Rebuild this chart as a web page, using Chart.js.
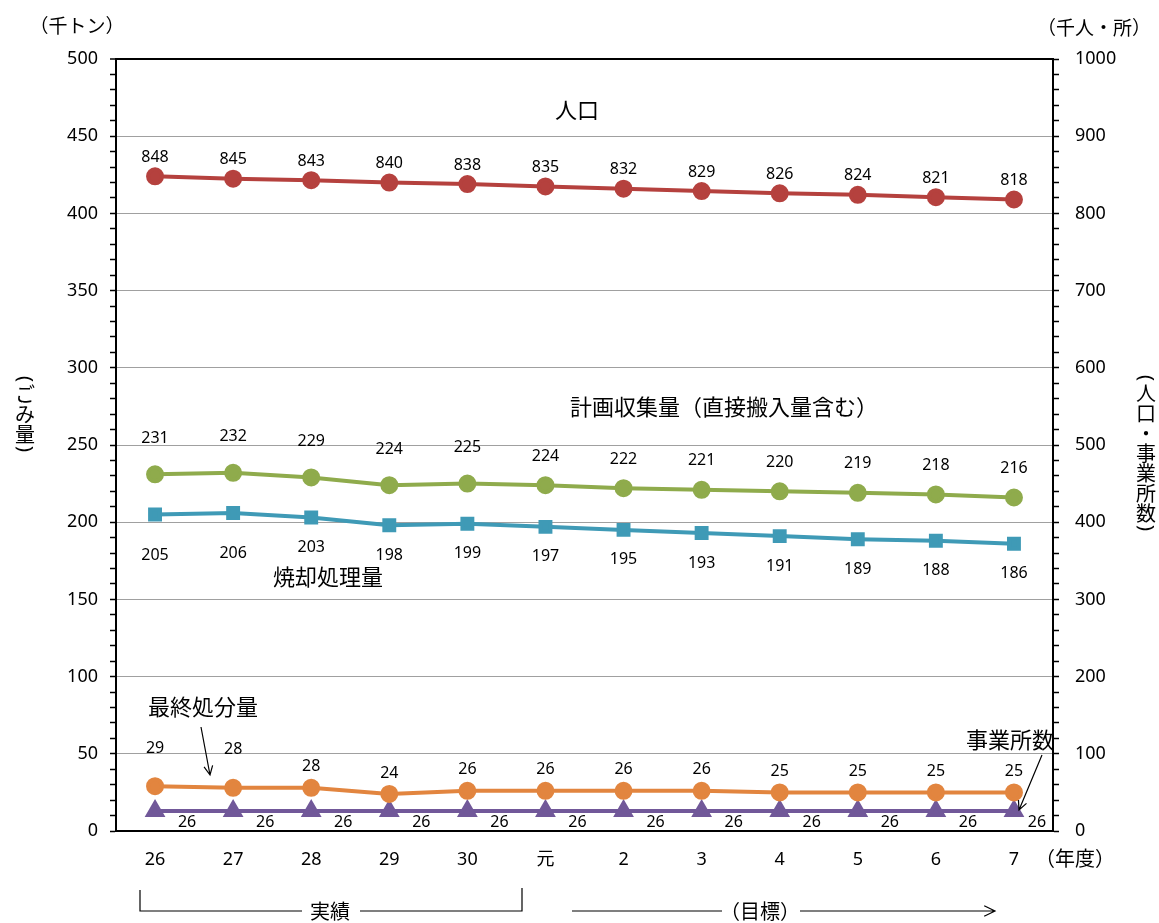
<!DOCTYPE html>
<html>
<head>
<meta charset="utf-8">
<script src="https://cdn.jsdelivr.net/npm/chart.js@4.4.0/dist/chart.umd.min.js"></script>
<style>
  html, body { margin: 0; padding: 0; background: #fff; }
  canvas { display: block; }
</style>
</head>
<body>
<canvas id="wasteChart" width="1159" height="923"></canvas>
<script>
const years = ['26', '27', '28', '29', '30', '元', '2', '3', '4', '5', '6', '7'];
const population = [848, 845, 843, 840, 838, 835, 832, 829, 826, 824, 821, 818];
const collected = [231, 232, 229, 224, 225, 224, 222, 221, 220, 219, 218, 216];
const incinerated = [205, 206, 203, 198, 199, 197, 195, 193, 191, 189, 188, 186];
const landfill = [29, 28, 28, 24, 26, 26, 26, 26, 25, 25, 25, 25];
const offices = [26, 26, 26, 26, 26, 26, 26, 26, 26, 26, 26, 26];

const NUM_FONT = '"Noto Sans", "Noto Sans CJK JP", sans-serif';
const JP_FONT = '"Noto Sans CJK JP", "Noto Sans", sans-serif';

// label offsets per series (dx, dy from the point)
const labelPos = [
  i => [0, -19],                       // 人口
  i => [0, i < 5 ? -36 : -29],         // 計画収集量
  i => [0, i < 2 ? 41 : 30],           // 焼却処理量
  i => [0, i < 2 ? -38 : -21],         // 最終処分量
  i => [i < 11 ? 32 : 23, 12]          // 事業所数
];

function arrow(ctx, x1, y1, x2, y2, head) {
  ctx.beginPath();
  ctx.moveTo(x1, y1);
  ctx.lineTo(x2, y2);
  const a = Math.atan2(y2 - y1, x2 - x1);
  ctx.moveTo(x2 - head * Math.cos(a - 0.45), y2 - head * Math.sin(a - 0.45));
  ctx.lineTo(x2, y2);
  ctx.lineTo(x2 - head * Math.cos(a + 0.45), y2 - head * Math.sin(a + 0.45));
  ctx.stroke();
}

function verticalText(ctx, text, x, yTop, size) {
  ctx.textAlign = 'center';
  ctx.textBaseline = 'middle';
  let y = yTop;
  for (const ch of text) {
    if (ch === '(' || ch === ')') {
      const step = size * 0.5;
      ctx.save();
      ctx.translate(x, y + step / 2);
      ctx.rotate(Math.PI / 2);
      ctx.font = size + 'px ' + NUM_FONT;
      ctx.fillText(ch, 0, 0);
      ctx.restore();
      y += step;
    } else {
      ctx.font = size + 'px ' + JP_FONT;
      ctx.fillText(ch, x, y + size / 2);
      y += size;
    }
  }
}

const labelsPlugin = {
  id: 'labels',
  afterDatasetsDraw(chart) {
    const ctx = chart.ctx;
    ctx.save();
    ctx.fillStyle = '#000';
    ctx.font = '16px ' + NUM_FONT;
    ctx.textAlign = 'center';
    ctx.textBaseline = 'middle';
    chart.data.datasets.forEach((ds, di) => {
      const meta = chart.getDatasetMeta(di);
      meta.data.forEach((pt, i) => {
        const [dx, dy] = labelPos[di](i);
        ctx.fillText(String(ds.data[i]), pt.x + dx, pt.y + dy);
      });
    });
    ctx.restore();
  },
  afterDraw(chart) {
    const ctx = chart.ctx;
    ctx.save();
    ctx.fillStyle = '#000';
    ctx.strokeStyle = '#000';
    ctx.lineWidth = 1.2;
    ctx.textBaseline = 'middle';

    // series names
    ctx.font = '22px ' + JP_FONT;
    ctx.textAlign = 'center';
    ctx.fillText('人口', 577, 110);
    ctx.fillText('焼却処理量', 328, 577);
    ctx.fillText('最終処分量', 203, 707);
    ctx.textAlign = 'left';
    ctx.fillText('計画収集量（直接搬入量含む）', 570, 407);
    ctx.textAlign = 'right';
    ctx.fillText('事業所数', 1054, 740);

    arrow(ctx, 201, 727, 210, 775, 10);
    arrow(ctx, 1042, 755, 1019, 810, 10);

    // axis units
    ctx.font = '19px ' + JP_FONT;
    ctx.textAlign = 'center';
    ctx.fillText('（千トン）', 77, 26);
    ctx.fillText('（千人・所）', 1094, 28);
    ctx.font = '20px ' + JP_FONT;
    ctx.fillText('（年度）', 1075, 858);

    verticalText(ctx, '(ごみ量)', 25, 374, 20);
    verticalText(ctx, '(人口・事業所数)', 1146, 373, 20);

    // period brackets
    ctx.font = '20px ' + JP_FONT;
    ctx.textAlign = 'center';
    ctx.fillText('実績', 330, 911);
    ctx.beginPath();
    ctx.moveTo(140, 890); ctx.lineTo(140, 911); ctx.lineTo(302, 911);
    ctx.moveTo(360, 911); ctx.lineTo(522, 911); ctx.lineTo(522, 888);
    ctx.stroke();

    ctx.fillText('（目標）', 760, 911);
    ctx.beginPath();
    ctx.moveTo(572, 911); ctx.lineTo(722, 911);
    ctx.stroke();
    arrow(ctx, 800, 911, 995, 911, 12);
    ctx.restore();
  }
};

function lineSet(label, data, color, style, axis) {
  return {
    label: label,
    data: data,
    yAxisID: axis,
    borderColor: color,
    backgroundColor: color,
    pointBackgroundColor: color,
    pointBorderColor: color,
    pointStyle: style,
    pointRadius: style === 'triangle' ? 8 : 7,
    borderWidth: 4,
    tension: 0
  };
}

new Chart(document.getElementById('wasteChart').getContext('2d'), {
  type: 'line',
  data: {
    labels: years,
    datasets: [
      lineSet('人口', population, '#B5413E', 'circle', 'y2'),
      lineSet('計画収集量', collected, '#8FAB4C', 'circle', 'y'),
      lineSet('焼却処理量', incinerated, '#3F9AB6', 'rect', 'y'),
      lineSet('最終処分量', landfill, '#E2853F', 'circle', 'y'),
      lineSet('事業所数', offices, '#715899', 'triangle', 'y2')
    ]
  },
  options: {
    responsive: false,
    animation: false,
    devicePixelRatio: 1,
    layout: { padding: { top: 59, left: 0, right: 0, bottom: 0 } },
    plugins: {
      legend: { display: false },
      tooltip: { enabled: false }
    },
    scales: {
      x: {
        offset: true,
        grid: { display: false, drawTicks: false },
        border: { color: '#000', width: 2 },
        ticks: { padding: 18, color: '#000', font: { size: 18, family: NUM_FONT } },
        afterFit(s) { s.height = 92; }
      },
      y: {
        position: 'left',
        min: 0,
        max: 500,
        ticks: {
          stepSize: 10,
          autoSkip: false,
          padding: 12,
          color: '#000',
          font: { size: 18, family: NUM_FONT },
          callback: v => (v % 50 === 0 ? v : '')
        },
        grid: {
          color: c => (c.tick.value === 500 ? '#000' : (c.tick.value % 50 === 0 && c.tick.value > 0 ? '#A0A0A0' : 'rgba(0,0,0,0)')),
          lineWidth: c => (c.tick.value === 500 ? 2 : 1),
          tickColor: '#000',
          tickWidth: 1.5,
          tickLength: 6
        },
        border: { color: '#000', width: 2 },
        afterFit(s) { s.width = 116; }
      },
      y2: {
        position: 'right',
        min: 0,
        max: 1000,
        ticks: {
          stepSize: 20,
          autoSkip: false,
          padding: 16,
          color: '#000',
          font: { size: 18, family: NUM_FONT },
          callback: v => (v % 100 === 0 ? v : '')
        },
        grid: {
          drawOnChartArea: false,
          tickColor: '#000',
          tickWidth: 1.5,
          tickLength: 6
        },
        border: { color: '#000', width: 2 },
        afterFit(s) { s.width = 106; }
      }
    }
  },
  plugins: [labelsPlugin]
});
</script>
</body>
</html>
